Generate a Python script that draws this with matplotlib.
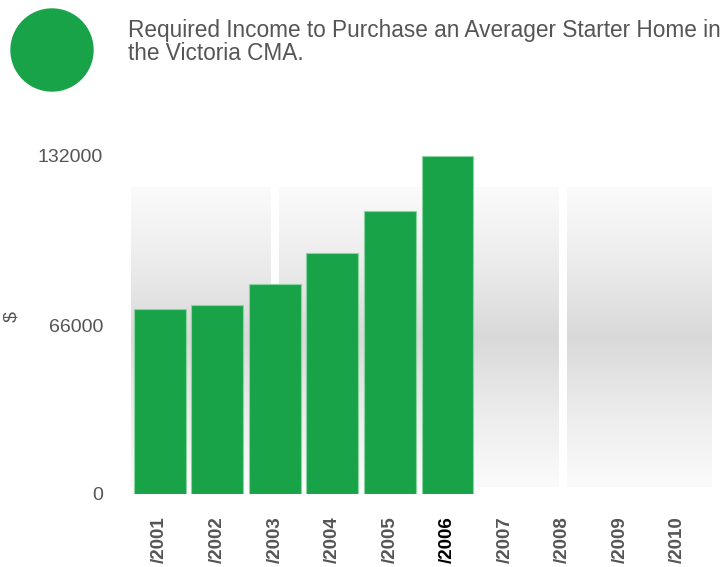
import numpy as np
import matplotlib
matplotlib.use("Agg")
import matplotlib.pyplot as plt
from matplotlib.patches import Ellipse
from matplotlib.colors import LinearSegmentedColormap

plt.rcParams['font.family'] = ['Liberation Sans', 'DejaVu Sans']

# ---- data ----
categories = ["/2001", "/2002", "/2003", "/2004", "/2005",
              "/2006", "/2007", "/2008", "/2009", "/2010"]
values = [72300, 73800, 82000, 94000, 110600, 132000]
yticks = [0, 66000, 132000]
ytick_labels = ["0", "66000", "132000"]
title = "Required Income to Purchase an Averager Starter Home in\nthe Victoria CMA."
ylabel = "$"

GREEN = "#19a349"
GRAY = "#555555"

W, H = 724, 567
fig = plt.figure(figsize=(W / 100, H / 100), dpi=100)
ax = fig.add_axes([131 / W, (H - 494) / H, 580 / W, 338 / H])

x = np.arange(len(categories))

# gradient background bands
cmap = LinearSegmentedColormap.from_list(
    "bg", ["#fbfbfb", "#ececec", "#d9d9d9", "#ececec", "#fbfbfb"])
grad = np.linspace(0, 1, 256).reshape(-1, 1)
band_lo, band_hi = 2700, 119500
gap = 0.07
bands = [(-0.5, 2 - gap), (2 + gap, 7 - gap), (7 + gap, 9.58)]
for x0, x1 in bands:
    ax.imshow(grad, extent=[x0, x1, band_lo, band_hi], aspect="auto",
              cmap=cmap, origin="lower", zorder=0, interpolation="bicubic")
ax.set_xlim(-0.5, 9.58)
ax.set_ylim(0, 132000)

ax.bar(x[:len(values)], values, width=0.9, color=GREEN,
       edgecolor="#8bd3a0", linewidth=0.8, zorder=2)

for s in ax.spines.values():
    s.set_visible(False)

ax.set_yticks(yticks)
ax.set_yticklabels(ytick_labels, fontsize=14, color=GRAY)
ax.tick_params(axis="y", length=0, pad=20)

ax.set_xticks(x)
ax.set_xticklabels(categories, rotation=90, fontsize=13.5,
                   fontweight="bold", color="#555555", va="top")
ax.tick_params(axis="x", length=0, pad=16)
for lbl in ax.get_xticklabels():
    if lbl.get_text() == "/2006":
        lbl.set_color("black")

fig.text(12 / W, 1 - 316 / H, ylabel, rotation=90, fontsize=14,
         color=GRAY, ha="center", va="center")

circ = Ellipse((52 / W, 1 - 50 / H), 82 / W, 82 / H,
               transform=fig.transFigure, color=GREEN)
fig.patches.append(circ)

fig.text(128 / W, 1 - 19 / H, title, fontsize=16.3, color=GRAY,
         ha="left", va="top", linespacing=0.98)

fig.savefig("out.png", dpi=100)
